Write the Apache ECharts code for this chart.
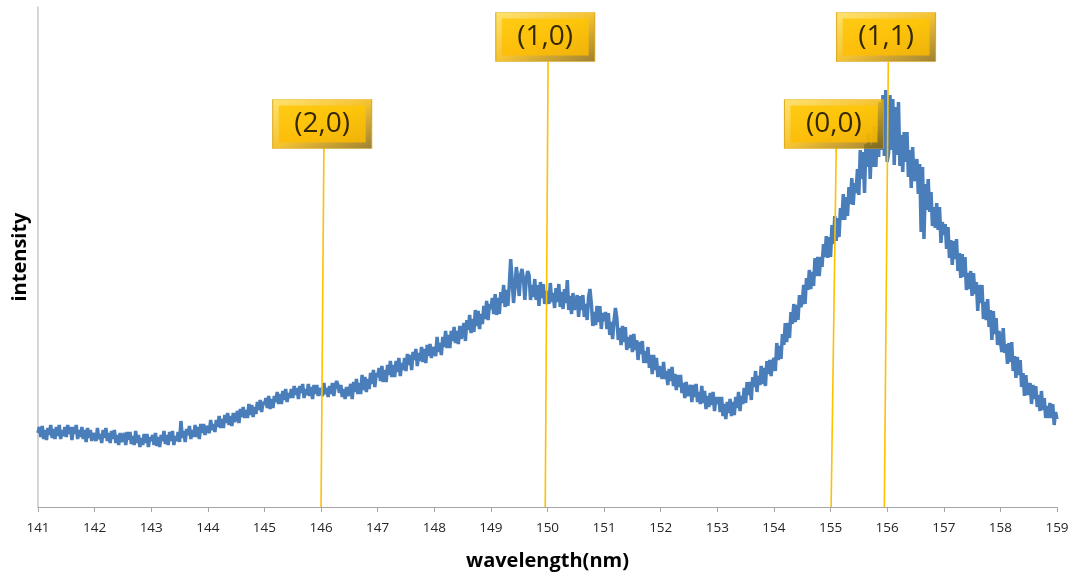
<!DOCTYPE html>
<html>
<head>
<meta charset="utf-8">
<script src="https://cdn.jsdelivr.net/npm/echarts@6/dist/echarts.min.js"></script>
<style>html,body{margin:0;padding:0;background:#fff}#c{width:1077px;height:581px}</style>
</head>
<body>
<div id="c"></div>
<script>
// Sampling grid of the spectrum (nm)
const wlStart = 141;
const wlStep = 0.025;
// Intensity (arbitrary units), one value per 0.025 nm from 141 to 159
const intensity = [
74,80,70,81,68,77,67,79,72,82,69,78,68,80,71,82,68,77,71,80,
70,82,73,80,67,80,73,82,68,77,70,80,68,77,65,79,69,77,66,74,
75,66,79,68,73,64,77,69,79,66,74,64,76,68,77,64,72,62,74,65,
66,74,62,75,67,75,63,71,62,76,64,72,60,69,62,73,64,73,60,70,
66,72,62,74,61,70,60,72,66,76,63,72,62,75,66,76,62,71,66,75,
65,86,69,76,65,78,72,81,68,77,70,82,70,80,68,83,74,83,72,81,
82,74,87,77,83,75,87,80,91,79,88,79,92,84,94,82,91,81,94,85,
87,96,84,98,90,100,89,97,89,103,92,102,90,100,93,105,97,107,95,105,
102,109,99,111,98,108,99,111,105,115,103,113,103,116,107,118,105,114,109,118,
109,121,112,119,108,121,114,123,109,118,112,123,111,120,108,122,113,122,111,119,
120,111,124,113,119,110,121,113,124,111,120,126,122,114,122,110,118,108,120,111,
111,123,108,125,115,128,113,124,113,132,117,130,115,128,118,134,123,137,120,134,
130,139,126,141,125,137,125,142,132,146,130,142,130,146,135,149,131,144,137,149,
136,153,142,152,137,155,147,158,141,154,146,160,145,158,144,162,151,163,149,160,
162,151,170,155,164,152,170,160,176,159,172,159,176,166,180,164,176,163,181,168,
170,184,166,187,177,192,174,188,175,197,181,196,178,193,183,201,188,206,187,203,
198,209,193,213,192,209,193,215,204,222,200,217,201,222,248,227,204,220,240,228,
211,232,238,228,207,228,236,232,207,222,210,228,207,222,201,225,209,223,203,216,
218,203,224,205,214,199,219,205,223,200,215,198,218,204,227,197,211,193,214,197,
199,212,190,211,197,212,190,203,187,210,218,203,181,195,182,201,185,201,178,194,
186,195,178,194,172,185,168,186,199,189,167,179,162,181,165,180,157,170,159,172,
155,173,157,167,147,165,153,166,144,156,144,160,139,152,133,152,137,149,130,141,
141,128,145,128,136,122,138,126,140,121,133,117,132,120,132,114,124,109,125,111,
112,122,105,122,110,123,105,115,103,121,104,116,98,111,100,114,102,115,96,110,
103,110,95,110,91,103,88,105,94,108,91,105,92,110,99,115,96,111,103,119,
104,125,112,125,107,130,120,136,115,131,122,141,123,139,121,146,133,147,131,145,
149,136,164,147,161,148,173,162,184,165,184,169,195,183,203,185,202,187,212,200,
205,222,203,229,217,237,218,235,221,249,231,250,231,250,240,263,250,271,249,270,
250,282,263,291,266,289,270,299,287,313,287,310,291,320,303,329,302,324,314,338,
312,357,328,355,314,363,340,374,328,362,340,381,340,375,350,405,357,412,351,417,
345,354,412,357,408,342,400,352,405,341,372,335,375,345,375,330,357,319,360,326,
330,348,313,343,275,340,268,323,297,328,295,315,281,300,279,304,277,300,264,285,
272,283,258,280,249,267,242,266,248,268,236,254,229,253,230,250,217,234,218,236,
211,234,213,225,196,222,204,222,188,205,187,208,180,197,167,196,173,189,162,176,
176,155,179,154,163,143,164,145,165,136,151,129,150,132,147,120,134,111,132,112,
112,124,103,122,108,121,100,112,96,116,97,109,89,101,89,104,89,103,82,95,
88
];
// Band annotations
const bandLabels = ['(2,0)', '(1,0)', '(0,0)', '(1,1)'];
const bandAxisWl = [146.0, 149.96, 155.01, 155.95];   // where each marker line meets the axis
const bandTopWl = [146.05, 150.01, 155.10, 156.02];   // where each marker line meets its label
const bandTopLevel = [359, 445, 359, 445];            // intensity level of the label's lower edge
const bandLabelLevel = [383, 470, 383, 470];          // intensity level of the label's centre
const bandLabelWl = [146.02, 149.96, 155.06, 155.98];

const spectrum = intensity.map((v, i) => [+(wlStart + i * wlStep).toFixed(3), v]);

const series = [{
  type: 'line',
  data: spectrum,
  showSymbol: false,
  symbol: 'none',
  lineStyle: { color: '#4a7ebb', width: 3.5 },
  z: 2
}];
bandLabels.forEach((lab, i) => {
  series.push({
    type: 'line',
    data: [[bandAxisWl[i], 0], [bandTopWl[i], bandTopLevel[i]]],
    symbol: 'none',
    lineStyle: { color: '#ffc000', width: 1.6 },
    z: 3
  });
});
const boxData = bandLabels.map((lab, i) => ({ value: [bandLabelWl[i], bandLabelLevel[i]], name: lab }));
series.push({
  type: 'scatter',
  data: boxData,
  symbol: 'rect',
  symbolSize: [99, 49],
  itemStyle: {
    color: { type: 'linear', x: 0, y: 0, x2: 1, y2: 1, colorStops: [
      { offset: 0, color: '#ffdc50' }, { offset: 0.5, color: '#f2b400' }, { offset: 1, color: '#856000' }] },
    borderColor: '#d8a000', borderWidth: 0.8
  },
  z: 4, silent: true
});
series.push({
  type: 'scatter',
  data: boxData,
  symbol: 'rect',
  symbolSize: [87, 37],
  itemStyle: {
    color: { type: 'linear', x: 0, y: 0, x2: 0, y2: 1, colorStops: [
      { offset: 0, color: '#ffc600' }, { offset: 1, color: '#ffbc00' }] }
  },
  label: {
    show: true, position: 'inside', formatter: p => p.name,
    fontFamily: 'Open Sans', fontSize: 28, color: '#000'
  },
  z: 5, silent: true
});

const chart = echarts.init(document.getElementById('c'), null, { renderer: 'canvas' });
chart.setOption({
  animation: false,
  backgroundColor: '#ffffff',
  grid: { left: 38, right: 20, top: 7, bottom: 74, containLabel: false },
  xAxis: {
    type: 'value', min: 141, max: 159, interval: 1,
    name: 'wavelength(nm)', nameLocation: 'middle', nameGap: 44,
    nameTextStyle: { fontFamily: 'Open Sans', fontWeight: 'bold', fontSize: 20, color: '#000' },
    axisLine: { show: true, lineStyle: { color: '#a6a6a6', width: 1 } },
    axisTick: { show: true, length: 5, lineStyle: { color: '#a6a6a6' } },
    axisLabel: { fontFamily: 'Open Sans', fontSize: 13.5, color: '#262626', margin: 14 },
    splitLine: { show: false }
  },
  yAxis: {
    type: 'value', min: 0, max: 500,
    name: 'intensity', nameLocation: 'middle', nameGap: 8,
    nameTextStyle: { fontFamily: 'Open Sans', fontWeight: 'bold', fontSize: 20, color: '#000' },
    axisLine: { show: true, lineStyle: { color: '#c8c8c8', width: 1.5 } },
    axisTick: { show: false },
    axisLabel: { show: false },
    splitLine: { show: false }
  },
  series: series
});
</script>
</body>
</html>
